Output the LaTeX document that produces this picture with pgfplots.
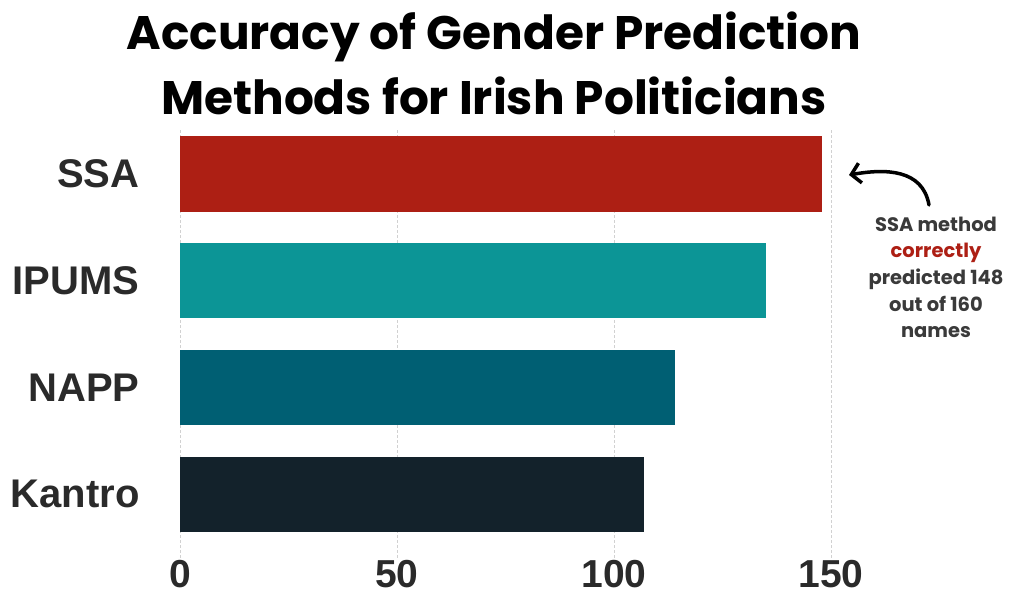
\documentclass[border=0pt]{standalone}
\usepackage{pgfplots}
\pgfplotsset{compat=1.18}
\usepackage{fontspec}
\setmainfont{Liberation Sans}
\newfontfamily\pop{Poppins}
\usetikzlibrary{arrows.meta}

\definecolor{ssa}{HTML}{AD1F14}
\definecolor{ipums}{HTML}{0C9596}
\definecolor{napp}{HTML}{005F73}
\definecolor{kantro}{HTML}{13222B}
\definecolor{txt}{HTML}{2A2A2A}
\definecolor{note}{HTML}{3A3A3A}

\begin{document}
\begin{tikzpicture}
  \useasboundingbox (0,0) rectangle (1023pt,597pt);
  \begin{axis}[
      at={(180pt,39pt)}, anchor=south west,
      scale only axis, width=651pt, height=428pt,
      xmin=0, xmax=150, ymin=-0.595, ymax=3.41,
      axis line style={draw=none},
      xtick={0,50,100,150},
      ytick={0,1,2,3},
      yticklabels={Kantro,NAPP,IPUMS,SSA},
      major tick length=0pt,
      xmajorgrids,
      grid style={densely dashed, black!18, line width=0.8pt},
      /pgf/number format/assume math mode=true,
      xticklabel style={font=\fontsize{39}{39}\selectfont\bfseries, text=txt, yshift=1pt},
      yticklabel style={font=\fontsize{40}{40}\selectfont\bfseries, text=txt, xshift=-37pt},
      xbar, bar width=0.707, bar shift=0pt,
      clip=false,
    ]
    \addplot[xbar, bar shift=0pt, fill=kantro, draw=none] coordinates {(107,0)};
    \addplot[xbar, bar shift=0pt, fill=napp, draw=none] coordinates {(114,1)};
    \addplot[xbar, bar shift=0pt, fill=ipums, draw=none] coordinates {(135,2)};
    \addplot[xbar, bar shift=0pt, fill=ssa, draw=none] coordinates {(148,3)};
  \end{axis}

  % title
  \node[anchor=base, font=\pop\bfseries\fontsize{47}{47}\selectfont] at (494pt,547pt) {Accuracy of Gender Prediction};
  \node[anchor=base, font=\pop\bfseries\fontsize{47}{47}\selectfont] at (494pt,482pt) {Methods for Irish Politicians};

  % annotation
  \begin{scope}[every node/.style={anchor=base, font=\pop\bfseries\fontsize{19.5}{19.5}\selectfont, text=note}]
    \node at (936pt,365pt) {SSA method};
    \node[text=ssa] at (936pt,339pt) {correctly};
    \node at (936pt,312pt) {predicted 148};
    \node at (936pt,285pt) {out of 160};
    \node at (936pt,259pt) {names};
  \end{scope}
  \draw[line width=3.5pt, line cap=round, -{Straight Barb[length=9pt, width=20pt, line width=3.5pt]}]
    (929pt,392pt) to[out=100, in=10, looseness=1.1] (849pt,422pt);
\end{tikzpicture}
\end{document}
